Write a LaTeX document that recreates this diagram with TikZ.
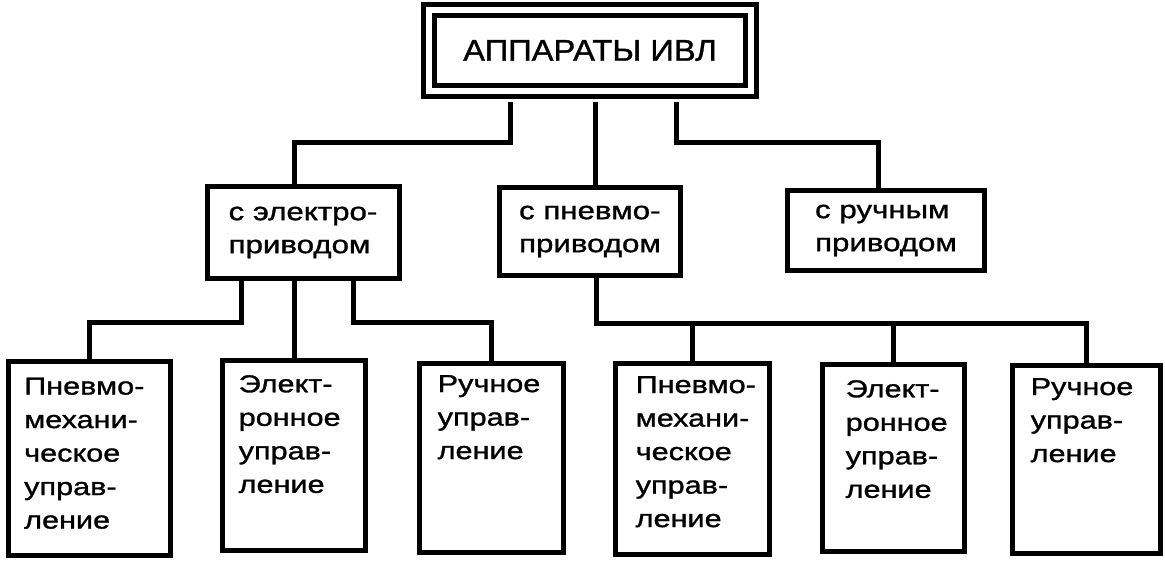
\documentclass[tikz,border=0pt]{standalone}
\usepackage{fontspec}
\setmainfont{Liberation Sans}
\newfontfamily\widesans[FakeStretch=1.25,FakeBold=1.2]{Liberation Sans}
\newfontfamily\titlesans[FakeStretch=1.09,FakeBold=1.2]{Liberation Sans}
\usepackage{tikz}
\usetikzlibrary{positioning}
\tikzset{
  % --- boxes -----------------------------------------------------------------
  ivlbox/.style={rectangle,draw,line width=5pt,double,double distance=6pt,
                 inner sep=0pt,font=\titlesans\fontsize{30}{36}\selectfont},
  grpbox/.style={rectangle,draw,line width=5pt,inner sep=0pt,align=left,
                 font=\widesans\fontsize{25}{33}\selectfont},
  ctlbox/.style={rectangle,draw,line width=5pt,inner sep=0pt},
  ctltext/.style={inner sep=0pt,align=left,
                  font=\widesans\fontsize{24.5}{33.5}\selectfont,
                  execute at begin node=\strut},
  % --- connectors ------------------------------------------------------------
  wire/.style={line width=5pt,line join=miter},
}
\begin{document}
\begin{tikzpicture}[x=1pt, y=-1pt]
  \useasboundingbox (0,0) rectangle (1165,563);

  \node[ivlbox,minimum width=322,minimum height=81] (ivl) at (590,50.5) {АППАРАТЫ ИВЛ};

  \node[grpbox,minimum width=192,minimum height=92] (b1) at (303,232.5) {с электро-\\приводом};
  \node[grpbox,minimum width=181,minimum height=88] (b2) at (590,231.5) {с пневмо-\\приводом};
  \node[grpbox,minimum width=197,minimum height=80] (b3) at (886,230.5) {с ручным\\приводом};

  \node[ctlbox,minimum width=162,minimum height=194] (pA) at (89.5,458)   {};
  \node[ctlbox,minimum width=143,minimum height=190] (pB) at (294,455.5)  {};
  \node[ctlbox,minimum width=144,minimum height=189] (pC) at (491.5,457.5) {};
  \node[ctlbox,minimum width=154,minimum height=191] (pD) at (692.5,458.5) {};
  \node[ctlbox,minimum width=142,minimum height=187] (pE) at (893.5,458)  {};
  \node[ctlbox,minimum width=148,minimum height=188] (pF) at (1086.5,459.5) {};

  \node[ctltext,below right=19pt and 18pt of pA.north west] (tA) {Пневмо-\\механи-\\ческое\\управ-\\ление};
  \node[ctltext,below right=17pt and 18.5pt of pB.north west] (tB) {Элект-\\ронное\\управ-\\ление};
  \node[ctltext,below right=14.5pt and 20.5pt of pC.north west] (tC) {Ручное\\управ-\\ление};
  \node[ctltext,below right=15.5pt and 22.5pt of pD.north west] (tD) {Пневмо-\\механи-\\ческое\\управ-\\ление};
  \node[ctltext,below right=18pt and 25.5pt of pE.north west] (tE) {Элект-\\ронное\\управ-\\ление};
  \node[ctltext,below right=15pt and 20.5pt of pF.north west] (tF) {Ручное\\управ-\\ление};

  % top level
  \draw[wire] ([xshift=-80pt,yshift=-8pt]ivl.south) -- ++(0,41) -| ([xshift=-8.5pt]b1.north);
  \draw[wire] ([xshift=5pt,yshift=-8pt]ivl.south) -- ([xshift=5pt]b2.north);
  \draw[wire] ([xshift=86pt,yshift=-8pt]ivl.south) -- ++(0,41) -| ([xshift=-8pt]b3.north);

  % electric drive
  \draw[wire] ([xshift=-62pt]b1.south) -- ++(0,41.5) -| (pA.north);
  \draw[wire] (pB.north |- b1.south) -- (pB.north);
  \draw[wire] ([xshift=50pt]b1.south) -- ++(0,41.5) -| (pC.north);

  % pneumatic drive
  \draw[wire] ([xshift=6pt]b2.south) -- ++(0,45) coordinate (bus) -| (pF.north);
  \draw[wire] (bus -| pD.north) -- (pD.north);
  \draw[wire] (bus -| pE.north) -- (pE.north);
\end{tikzpicture}
\end{document}
